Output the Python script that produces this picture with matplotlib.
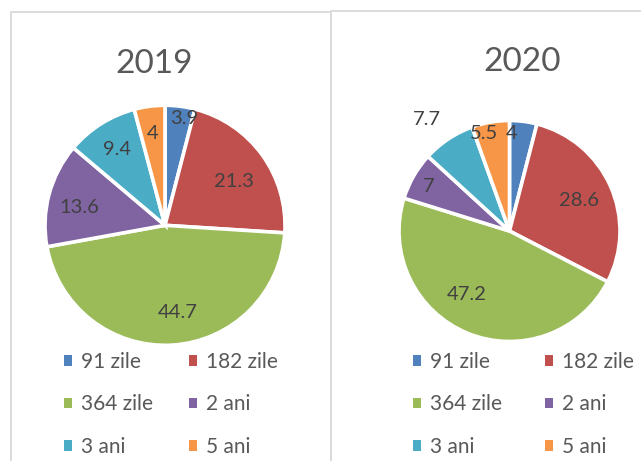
import numpy as np
import matplotlib
matplotlib.use("Agg")
import matplotlib.pyplot as plt
from matplotlib.patches import Patch
from matplotlib.lines import Line2D

plt.rcParams['font.family'] = ['Lato', 'DejaVu Sans']

categories = ["91 zile", "182 zile", "364 zile", "2 ani", "3 ani", "5 ani"]
values_2019 = [3.9, 21.3, 44.7, 13.6, 9.4, 4]
values_2020 = [4, 28.6, 47.2, 7, 7.7, 5.5]
labels_2019 = ["3.9", "21.3", "44.7", "13.6", "9.4", "4"]
labels_2020 = ["4", "28.6", "47.2", "7", "7.7", "5.5"]
titles = ["2019", "2020"]

colors = ["#4F81BD", "#C0504D", "#9BBB59", "#8064A2", "#4BACC6", "#F79646"]

# label placement styling (radial fraction, clockwise angular shift in degrees)
dist_2019 = [0.9, 0.683, 0.736, 0.73, 0.75, 0.77]
shift_2019 = [2.9, 3.3, -4.7, -3.3, 0, 0]
dist_2020 = [0.887, 0.685, 0.69, 0.83, 1.26, 0.915]
shift_2020 = [-5.7, 0.7, 11.9, -1.2, -2.8, -4.7]

W, H = 641, 461
fig = plt.figure(figsize=(W / 100, H / 100), dpi=100)

def fx(px):
    return px / W

def fy(py):
    return 1 - py / H

# panel borders
border = "#D9D9D9"
for (x0, y0, x1, y1) in [(11, 12, 331, 470), (331, 11, 660, 470)]:
    fig.add_artist(Line2D([fx(x0), fx(x0), fx(x1), fx(x1)],
                          [fy(y1), fy(y0), fy(y0), fy(y1)],
                          color=border, lw=1.3, transform=fig.transFigure))

panels = [
    dict(cx=165, cy=225.3, r=120, vals=values_2019, labs=labels_2019,
         dist=dist_2019, shift=shift_2019, title_xy=(154.2, 64.2),
         leg_xy=(64, 352), colsp=1.75),
    dict(cx=509.5, cy=231, r=110.5, vals=values_2020, labs=labels_2020,
         dist=dist_2020, shift=shift_2020, title_xy=(522, 62),
         leg_xy=(412.7, 352), colsp=2.07),
]

# legend order: row-major over 2 columns
order = [0, 2, 4, 1, 3, 5]

for i, p in enumerate(panels):
    r = p['r']
    ax = fig.add_axes([fx(p['cx'] - r), fy(p['cy'] + r), 2 * r / W, 2 * r / H])
    wedges, _ = ax.pie(p['vals'], colors=colors, startangle=90, counterclock=False,
                       wedgeprops=dict(edgecolor="white", linewidth=2.6))
    ax.set_xlim(-1, 1)
    ax.set_ylim(-1, 1)
    ax.set_aspect('auto')
    ax.axis('off')
    for w, lab, d, s in zip(wedges, p['labs'], p['dist'], p['shift']):
        mid = np.deg2rad((w.theta1 + w.theta2) / 2 - s)
        ax.text(d * np.cos(mid), d * np.sin(mid), lab, ha='center', va='center',
                fontsize=14.5, color="#404040", clip_on=False)
    fig.text(fx(p['title_xy'][0]), fy(p['title_xy'][1]), titles[i],
             ha='center', va='center', fontsize=24, color="#595959")
    handles = [Patch(facecolor=colors[k], edgecolor='none') for k in order]
    labs = [categories[k] for k in order]
    leg = fig.legend(handles, labs, ncol=2, loc='upper left',
                     bbox_to_anchor=(fx(p['leg_xy'][0]), fy(p['leg_xy'][1])),
                     frameon=False, fontsize=15, handlelength=0.39,
                     handleheight=0.39, handletextpad=0.42,
                     columnspacing=p['colsp'],
                     labelspacing=1.08, borderaxespad=0, borderpad=0)
    for t in leg.get_texts():
        t.set_color("#595959")

fig.savefig("out.png", dpi=100)
